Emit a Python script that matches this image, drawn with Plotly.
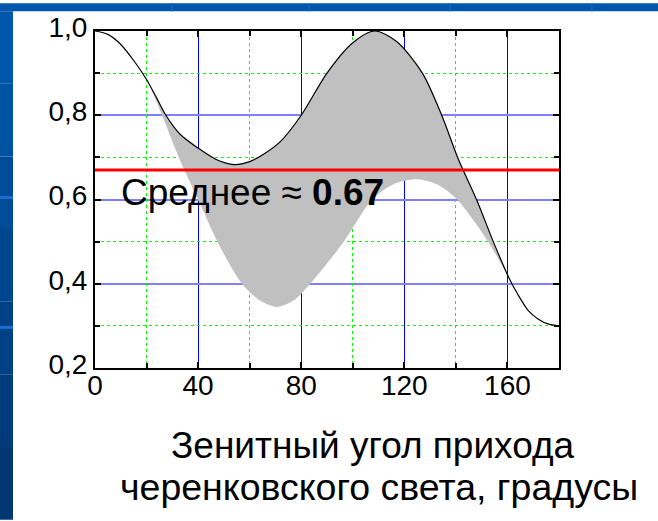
import plotly.graph_objects as go

# Zenith angle of Cherenkov light arrival (degrees) and relative value:
# upper and lower envelope of the band
upper_x = [0, 5, 10, 15, 20, 24, 27.5, 33, 40, 47, 54, 60, 66, 72, 80, 90, 100, 108.5, 117, 127, 134.5, 141, 148, 154.5, 160.5, 164, 168, 172, 176, 180]
upper_y = [1.0, 0.992, 0.968, 0.93, 0.885, 0.84, 0.80, 0.755, 0.722, 0.695, 0.683, 0.69, 0.71, 0.738, 0.80, 0.90, 0.972, 1.0, 0.975, 0.90, 0.80, 0.695, 0.60, 0.50, 0.415, 0.375, 0.337, 0.316, 0.304, 0.30]

lower_x = [0, 5, 10, 15, 20, 26, 32.5, 40, 47.5, 57, 64, 70.5, 77, 83.5, 96.5, 107.5, 116, 125, 133, 140.5, 152.5, 160.5, 164, 168, 172, 176, 180]
lower_y = [1.0, 0.992, 0.968, 0.93, 0.885, 0.80, 0.70, 0.60, 0.50, 0.40, 0.36, 0.345, 0.36, 0.40, 0.50, 0.60, 0.637, 0.648, 0.635, 0.60, 0.50, 0.415, 0.375, 0.337, 0.316, 0.304, 0.30]

mean_value = 0.67
x_range = [0, 180]
y_range = [0.2, 1.0]

W, H = 658, 521
L, R, T, B = 95, 99, 28, 153
PW, PH = W - L - R, H - T - B
FONT = "Liberation Sans, Arial, sans-serif"


def px_x(px):
    return (px - L) / PW


def px_y(py):
    return (T + PH - py) / PH


fig = go.Figure()

fig.add_trace(go.Scatter(
    x=lower_x, y=lower_y, mode="lines",
    line=dict(width=0, shape="spline", smoothing=0.8, color="#c0c0c0"),
    hoverinfo="skip", showlegend=False,
))
fig.add_trace(go.Scatter(
    x=upper_x, y=upper_y, mode="lines", fill="tonexty", fillcolor="#c0c0c0",
    line=dict(width=1.2, shape="spline", smoothing=0.8, color="black"),
    showlegend=False,
))
fig.add_trace(go.Scatter(
    x=x_range, y=[mean_value, mean_value], mode="lines",
    line=dict(width=3, color="#ff0000"), cliponaxis=False, showlegend=False,
))
# empty trace that registers the overlay axes carrying the dotted green grid
fig.add_trace(go.Scatter(x=[], y=[], xaxis="x2", yaxis="y2", showlegend=False,
                         hoverinfo="skip"))

# slide frame: blue strips around the white page
shapes = [
    dict(type="rect", xref="paper", yref="paper", layer="below",
         x0=px_x(0), x1=px_x(W), y0=px_y(0), y1=px_y(8),
         fillcolor="#0057ab", line=dict(width=0)),
]
left_blues = ["#0057ab", "#0052a3", "#004c99", "#00468f", "#004185", "#003c7c", "#003874"]
n = len(left_blues)
for i, c in enumerate(left_blues):
    shapes.append(dict(type="rect", xref="paper", yref="paper", layer="below",
                       x0=px_x(0), x1=px_x(13),
                       y0=px_y(8 + (H - 8) * i / n), y1=px_y(8 + (H - 8) * (i + 1) / n),
                       fillcolor=c, line=dict(width=0)))
for yy in (196, 327):
    shapes.append(dict(type="rect", xref="paper", yref="paper", layer="below",
                       x0=px_x(0), x1=px_x(13), y0=px_y(yy - 1.5), y1=px_y(yy + 1.5),
                       fillcolor="#1a6fd0", line=dict(width=0)))
for xx in (172, 309, 450, 592):
    shapes.append(dict(type="rect", xref="paper", yref="paper", layer="below",
                       x0=px_x(xx - 1), x1=px_x(xx + 1), y0=px_y(0), y1=px_y(8),
                       fillcolor="#0d63bb", line=dict(width=0)))

annotations = [
    dict(x=9.5, y=0.617, xref="x", yref="y", xanchor="left", yanchor="middle",
         text="Среднее ≈ <b>0.67</b>", showarrow=False,
         font=dict(family=FONT, size=37, color="black")),
    dict(x=px_x(372), y=px_y(446), xref="paper", yref="paper",
         xanchor="center", yanchor="middle", text="Зенитный угол прихода",
         showarrow=False, font=dict(family=FONT, size=37, color="black")),
    dict(x=px_x(379), y=px_y(488), xref="paper", yref="paper",
         xanchor="center", yanchor="middle", text="черенковского света, градусы",
         showarrow=False, font=dict(family=FONT, size=37.5, color="black")),
]

fig.update_layout(
    width=W, height=H,
    margin=dict(l=L, r=R, t=T, b=B, pad=0),
    paper_bgcolor="white", plot_bgcolor="white",
    separators=",.",
    font=dict(family=FONT, size=28, color="black"),
    shapes=shapes, annotations=annotations,
    showlegend=False,
)

fig.update_layout(
    xaxis=dict(
        range=x_range, tick0=0, dtick=40, showgrid=True, gridcolor="#0000ff", gridwidth=1,
        showline=True, linecolor="black", linewidth=2, mirror="allticks",
        ticks="inside", ticklen=6, tickwidth=1.5, tickcolor="black",
        tickfont=dict(family=FONT, size=28), zeroline=False, ticklabelstandoff=-9,
        minor=dict(dtick=20, tick0=0, showgrid=False, ticks="inside", ticklen=5,
                   tickcolor="black", tickwidth=1.5),
    ),
    yaxis=dict(
        range=y_range, tick0=0.2, dtick=0.2, tickformat=".1f",
        showgrid=True, gridcolor="#7f7fff", gridwidth=2,
        showline=True, linecolor="black", linewidth=2, mirror="allticks",
        ticks="inside", ticklen=6, tickwidth=1.5, tickcolor="black",
        tickfont=dict(family=FONT, size=28), zeroline=False, ticklabelshift=-4,
        minor=dict(dtick=0.1, tick0=0, showgrid=False, ticks="inside", ticklen=5,
                   tickcolor="black", tickwidth=1.5),
    ),
    # overlay axes: dotted green grid halfway between the main grid lines
    xaxis2=dict(
        overlaying="x", range=x_range, tick0=20, dtick=40, showgrid=True,
        gridcolor="#00ff00", griddash="dot", gridwidth=1, showticklabels=False,
        ticks="", showline=False, zeroline=False,
    ),
    yaxis2=dict(
        overlaying="y", range=y_range, tick0=0.3, dtick=0.2, showgrid=True,
        gridcolor="#00ff00", griddash="dot", gridwidth=1, showticklabels=False,
        ticks="", showline=False, zeroline=False,
    ),
)

fig.write_html("out.html")
